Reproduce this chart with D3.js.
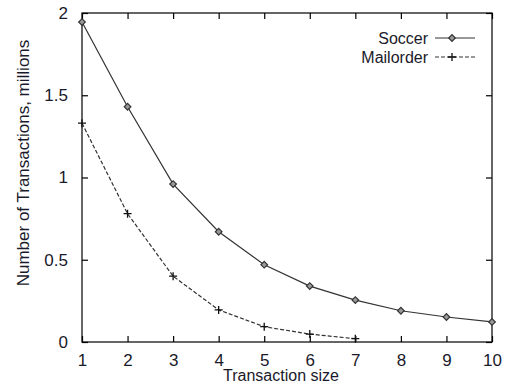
<!DOCTYPE html>
<html>
<head>
<meta charset="utf-8">
<script src="https://cdn.jsdelivr.net/npm/d3@7"></script>
<style>
  body { margin: 0; background: #fff; }
  text { font-family: "Liberation Sans", Arial, sans-serif; fill: #1a1a2a; }
</style>
</head>
<body>
<svg id="chart" width="508" height="385"></svg>
<script>
// data
const sizes = [1, 2, 3, 4, 5, 6, 7, 8, 9, 10];
const soccer = [1.945, 1.43, 0.96, 0.67, 0.47, 0.34, 0.255, 0.19, 0.152, 0.122];
const mailorderSizes = [1, 2, 3, 4, 5, 6, 7];
const mailorder = [1.33, 0.78, 0.40, 0.195, 0.093, 0.048, 0.02];
const yTicks = [0, 0.5, 1, 1.5, 2];

const svg = d3.select("#chart");
const margin = { left: 82, top: 13, right: 16, bottom: 43 };
const W = 508, H = 385;

const x = d3.scaleLinear().domain([1, 10]).range([margin.left, W - margin.right]);
const y = d3.scaleLinear().domain([0, 2]).range([H - margin.bottom, margin.top]);

// frame
svg.append("rect")
    .attr("x", x(1)).attr("y", y(2))
    .attr("width", x(10) - x(1)).attr("height", y(0) - y(2))
    .attr("fill", "none").attr("stroke", "#000").attr("stroke-width", 1.2);

const tickLen = 6;
// x ticks (bottom + top, inward)
const xa = svg.append("g").attr("transform", `translate(0,${y(0)})`)
    .call(d3.axisBottom(x).tickValues(sizes).tickSize(-tickLen).tickPadding(12).tickFormat(d3.format("d")));
const xt = svg.append("g").attr("transform", `translate(0,${y(2)})`)
    .call(d3.axisTop(x).tickValues(sizes).tickSize(-tickLen).tickFormat(""));
// y ticks (left + right, inward)
const ya = svg.append("g").attr("transform", `translate(${x(1)},0)`)
    .call(d3.axisLeft(y).tickValues(yTicks).tickSize(-tickLen).tickPadding(14).tickFormat(d => d));
const yr = svg.append("g").attr("transform", `translate(${x(10)},0)`)
    .call(d3.axisRight(y).tickValues(yTicks).tickSize(-tickLen).tickFormat(""));

[xa, xt, ya, yr].forEach(g => {
    g.select(".domain").remove();
    g.selectAll(".tick line").attr("stroke", "#000").attr("stroke-width", 1.2);
    g.selectAll("text").attr("font-size", 17).attr("fill", "#1a1a2a")
        .style("font-family", "'Liberation Sans', Arial, sans-serif");
});

// axis titles
svg.append("text").attr("x", 281).attr("y", 381)
    .attr("text-anchor", "middle").attr("font-size", 16).text("Transaction size");
svg.append("text").attr("transform", `translate(29,163) rotate(-90)`)
    .attr("text-anchor", "middle").attr("font-size", 17).text("Number of Transactions, millions");

const line = d3.line().x(d => x(d[0])).y(d => y(d[1]));
const soccerPts = sizes.map((s, i) => [s, soccer[i]]);
const mailPts = mailorderSizes.map((s, i) => [s, mailorder[i]]);

svg.append("path").datum(soccerPts).attr("d", line)
    .attr("fill", "none").attr("stroke", "#333").attr("stroke-width", 1.2);
svg.append("path").datum(mailPts).attr("d", line)
    .attr("fill", "none").attr("stroke", "#333").attr("stroke-width", 1.2)
    .attr("stroke-dasharray", "4,2");

const diamond = d3.symbol().type(d3.symbolSquare).size(22);
function drawDiamond(g, px, py) {
    g.append("path").attr("d", diamond).attr("transform", `translate(${px},${py}) rotate(45)`)
        .attr("fill", "#999").attr("stroke", "#333").attr("stroke-width", 1.2);
}
function drawPlus(g, px, py) {
    g.append("path").attr("d", `M${px - 4},${py}H${px + 4}M${px},${py - 4}V${py + 4}`)
        .attr("stroke", "#111").attr("stroke-width", 1.3);
}
const marks = svg.append("g");
soccerPts.forEach(p => drawDiamond(marks, x(p[0]), y(p[1])));
mailPts.forEach(p => drawPlus(marks, x(p[0]), y(p[1])));

// legend
const legend = svg.append("g");
const lx0 = 435, lx1 = 475;
legend.append("text").attr("x", 428).attr("y", 38).attr("dy", "0.35em")
    .attr("text-anchor", "end").attr("font-size", 16).text("Soccer");
legend.append("line").attr("x1", lx0).attr("x2", lx1).attr("y1", 38).attr("y2", 38)
    .attr("stroke", "#333").attr("stroke-width", 1.2);
drawDiamond(legend, (lx0 + lx1) / 2 - 3, 38);
legend.append("text").attr("x", 428).attr("y", 57).attr("dy", "0.35em")
    .attr("text-anchor", "end").attr("font-size", 16).text("Mailorder");
legend.append("line").attr("x1", lx0).attr("x2", lx1).attr("y1", 57).attr("y2", 57)
    .attr("stroke", "#333").attr("stroke-width", 1.2).attr("stroke-dasharray", "4,2");
drawPlus(legend, (lx0 + lx1) / 2 - 3, 57);
</script>
</body>
</html>
